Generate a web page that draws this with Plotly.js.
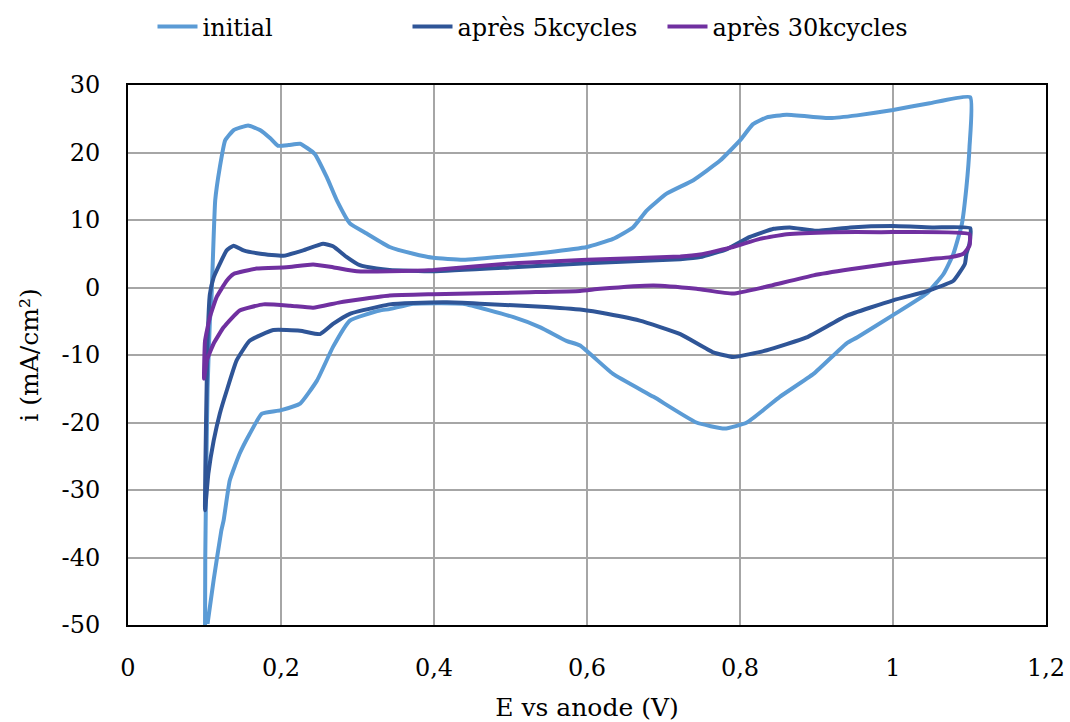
<!DOCTYPE html>
<html>
<head>
<meta charset="utf-8">
<script src="https://cdn.plot.ly/plotly-3.0.1.min.js"></script>
<style>html,body{margin:0;padding:0;background:#fff;}#chart{width:1070px;height:722px;}</style>
</head>
<body>
<div id="chart"></div>
<script>
const seriesNames = ["initial", "après 5kcycles", "après 30kcycles"];
const initialE = [0.1007,0.101,0.102,0.104,0.107,0.109,0.114,0.120,0.127,0.138,0.157,0.173,0.186,0.196,0.210,0.225,0.244,0.260,0.273,0.290,0.312,0.342,0.373,0.399,0.438,0.504,0.547,0.600,0.634,0.660,0.678,0.704,0.739,0.774,0.800,0.817,0.835,0.861,0.918,0.953,1.000,1.048,1.101,
  1.100,1.096,1.090,1.079,1.066,1.044,1.000,0.953,0.939,0.896,0.852,0.809,0.780,0.743,0.687,0.634,0.591,0.573,0.539,0.504,0.438,0.373,0.342,0.329,0.290,0.268,0.247,0.225,0.199,0.175,0.159,0.146,0.133,0.125,0.122,0.112,0.104];
const initialI = [-50,-40,-30,-15,-5,-1.9,12.9,17.8,21.8,23.3,24.0,23.3,22.1,21.0,21.1,21.3,19.8,16.3,12.9,9.5,8.0,6.0,5.0,4.4,4.1,4.7,5.2,6.0,7.2,8.9,11.4,13.9,15.9,18.8,21.8,24.2,25.2,25.6,25.1,25.5,26.3,27.3,28.2,
  20.8,14.9,9.4,5.0,2.0,-0.9,-4.1,-7.4,-8.3,-12.8,-16.2,-20.0,-20.9,-20.0,-16.2,-12.8,-8.6,-7.9,-5.9,-4.4,-2.4,-2.4,-3.2,-3.4,-4.9,-8.8,-13.8,-17.2,-18.2,-18.7,-21.7,-24.6,-28.6,-34.5,-36,-43.3,-49.8];
const k5E = [0.1007,0.102,0.104,0.107,0.112,0.120,0.129,0.138,0.151,0.173,0.203,0.229,0.255,0.268,0.286,0.303,0.325,0.342,0.399,0.504,0.600,0.722,0.748,0.783,0.813,0.844,0.865,0.900,0.944,1.000,1.053,1.101,
  1.100,1.096,1.094,1.079,1.053,1.040,1.000,0.939,0.887,0.835,0.791,0.765,0.722,0.669,0.617,0.600,0.547,0.460,0.417,0.373,0.342,0.329,0.290,0.268,0.251,0.225,0.190,0.159,0.142,0.129,0.120,0.112,0.105,0.1007];
const k5I = [-33,-20,-8,-1,1.5,3.5,5.5,6.2,5.5,5.0,4.7,5.5,6.5,6.1,4.5,3.3,2.8,2.6,2.4,3.0,3.6,4.2,4.5,5.7,7.5,8.7,8.9,8.4,8.9,9.1,8.9,8.8,
  6.5,5.0,3.5,1.0,-0.2,-0.7,-1.9,-4.2,-7.4,-9.3,-10.3,-9.6,-6.9,-4.9,-3.7,-3.4,-2.9,-2.4,-2.2,-2.3,-2.5,-2.8,-3.9,-5.4,-6.9,-6.4,-6.3,-7.9,-10.8,-15.3,-18.7,-22.7,-27.6,-33];
const k30E = [0.0994,0.1007,0.107,0.116,0.129,0.138,0.168,0.207,0.242,0.268,0.299,0.342,0.399,0.504,0.600,0.722,0.748,0.791,0.826,0.861,0.922,0.983,1.100,
  1.100,1.092,1.075,1.048,1.000,0.944,0.896,0.830,0.791,0.743,0.687,0.617,0.591,0.525,0.399,0.342,0.277,0.242,0.212,0.177,0.146,0.125,0.112,0.103,0.0994];
const k30I = [-13.5,-7.9,-4.4,-1.4,1.0,2.0,2.8,3.0,3.4,3.0,2.4,2.4,2.6,3.6,4.1,4.6,4.9,6.0,7.2,7.9,8.2,8.2,7.9,
  6.2,5.0,4.5,4.2,3.6,2.7,1.8,0.0,-0.9,-0.2,0.3,-0.2,-0.5,-0.7,-1.0,-1.2,-2.2,-3.0,-2.7,-2.5,-3.4,-5.9,-8.3,-10.8,-13.5];

const xTickVals = [0, 0.2, 0.4, 0.6, 0.8, 1, 1.2];
const xTickText = ["0", "0,2", "0,4", "0,6", "0,8", "1", "1,2"];
const yTickVals = [-50, -40, -30, -20, -10, 0, 10, 20, 30];
const yTickText = ["-50", "-40", "-30", "-20", "-10", "0", "10", "20", "30"];

const colors = ["#5B9BD5", "#2F5597", "#7030A0"];
const FONT = "DejaVu Serif";

const traces = [
  {x: initialE, y: initialI, name: seriesNames[0], mode: "lines", line: {color: colors[0], width: 4, shape: "spline", smoothing: 0.4}},
  {x: k5E, y: k5I, name: seriesNames[1], mode: "lines", line: {color: colors[1], width: 4, shape: "spline", smoothing: 0.4}},
  {x: k30E, y: k30I, name: seriesNames[2], mode: "lines", line: {color: colors[2], width: 4, shape: "spline", smoothing: 0.4}}
];

const layout = {
  width: 1070, height: 722,
  margin: {l: 128, r: 24, t: 85, b: 97},
  paper_bgcolor: "#fff", plot_bgcolor: "#fff",
  font: {family: FONT, color: "#000", size: 24},
  showlegend: true,
  legend: {orientation: "h", x: 0.5, xanchor: "center", xref: "container", y: 1 - 27/722, yanchor: "middle", yref: "container",
           font: {family: FONT, size: 24, color: "#000"}, itemwidth: 40, entrywidth: 200},
  xaxis: {
    range: [0, 1.2], tickvals: xTickVals, ticktext: xTickText,
    showgrid: true, gridcolor: "#a6a6a6", gridwidth: 2, zeroline: false,
    showline: true, linecolor: "#000", linewidth: 2, mirror: true, ticks: "",
    tickfont: {family: FONT, size: 24, color: "#000"}, ticklabelstandoff: 20,
    title: {text: "E vs anode (V)", font: {family: FONT, size: 25, color: "#000"}, standoff: 20}
  },
  yaxis: {
    range: [-50, 30], tickvals: yTickVals, ticktext: yTickText,
    showgrid: true, gridcolor: "#a6a6a6", gridwidth: 2, zeroline: false,
    showline: true, linecolor: "#000", linewidth: 2, mirror: true, ticks: "",
    tickfont: {family: FONT, size: 24, color: "#000"}, ticklabelstandoff: 21,
    title: {text: "i (mA/cm²)", font: {family: FONT, size: 25, color: "#000"}, standoff: 16}
  }
};

Plotly.newPlot("chart", traces, layout, {displayModeBar: false, staticPlot: true});
</script>
</body>
</html>
